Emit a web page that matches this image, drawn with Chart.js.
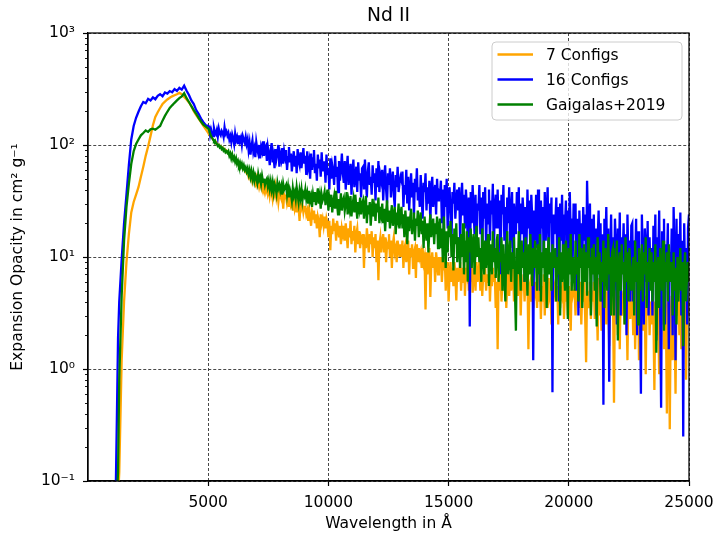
<!DOCTYPE html>
<html lang="en">
  <head>
    <meta charset="UTF-8" />
    <title>Nd II</title>
    <script src="https://cdn.jsdelivr.net/npm/chart.js"></script>
    <style>
      html, body { margin: 0; padding: 0; background: #fff; }
      #myChart { display: block; }
    </style>
  </head>
  <body>
    <canvas id="myChart" width="719" height="535"></canvas>

    <script>
      // wavelength grid in Å
      const wavelength = [
        1100, 1150, 1200, 1250, 1300, 1400, 1500, 1600, 1700, 1800,
        1900, 2000, 2100, 2200, 2300, 2400, 2500, 2600, 2700, 2800,
        2900, 3000, 3100, 3200, 3300, 3400, 3500, 3600, 3700, 3800,
        3900, 4000, 4100, 4200, 4300, 4400, 4500, 4600, 4700, 4800,
        4900, 5000,
        5040, 5080, 5120, 5160, 5200, 5240, 5280, 5320, 5360, 5400, 5440, 5480, 5520, 5560, 5600, 5640, 5680, 5720, 5760, 5800,
        5840, 5880, 5920, 5960, 6000, 6040, 6080, 6120, 6160, 6200, 6240, 6280, 6320, 6360, 6400, 6440, 6480, 6520, 6560, 6600,
        6640, 6680, 6720, 6760, 6800, 6840, 6880, 6920, 6960, 7000, 7040, 7080, 7120, 7160, 7200, 7240, 7280, 7320, 7360, 7400,
        7440, 7480, 7520, 7560, 7600, 7640, 7680, 7720, 7760, 7800, 7840, 7880, 7920, 7960, 8000, 8040, 8080, 8120, 8160, 8200,
        8240, 8280, 8320, 8360, 8400, 8440, 8480, 8520, 8560, 8600, 8640, 8680, 8720, 8760, 8800, 8840, 8880, 8920, 8960, 9000,
        9040, 9080, 9120, 9160, 9200, 9240, 9280, 9320, 9360, 9400, 9440, 9480, 9520, 9560, 9600, 9640, 9680, 9720, 9760, 9800,
        9840, 9880, 9920, 9960, 10000, 10040, 10080, 10120, 10160, 10200, 10240, 10280, 10320, 10360, 10400, 10440, 10480, 10520, 10560, 10600,
        10640, 10680, 10720, 10760, 10800, 10840, 10880, 10920, 10960, 11000, 11040, 11080, 11120, 11160, 11200, 11240, 11280, 11320, 11360, 11400,
        11440, 11480, 11520, 11560, 11600, 11640, 11680, 11720, 11760, 11800, 11840, 11880, 11920, 11960, 12000, 12040, 12080, 12120, 12160, 12200,
        12240, 12280, 12320, 12360, 12400, 12440, 12480, 12520, 12560, 12600, 12640, 12680, 12720, 12760, 12800, 12840, 12880, 12920, 12960, 13000,
        13040, 13080, 13120, 13160, 13200, 13240, 13280, 13320, 13360, 13400, 13440, 13480, 13520, 13560, 13600, 13640, 13680, 13720, 13760, 13800,
        13840, 13880, 13920, 13960, 14000, 14040, 14080, 14120, 14160, 14200, 14240, 14280, 14320, 14360, 14400, 14440, 14480, 14520, 14560, 14600,
        14640, 14680, 14720, 14760, 14800, 14840, 14880, 14920, 14960, 15000, 15040, 15080, 15120, 15160, 15200, 15240, 15280, 15320, 15360, 15400,
        15440, 15480, 15520, 15560, 15600, 15640, 15680, 15720, 15760, 15800, 15840, 15880, 15920, 15960, 16000, 16040, 16080, 16120, 16160, 16200,
        16240, 16280, 16320, 16360, 16400, 16440, 16480, 16520, 16560, 16600, 16640, 16680, 16720, 16760, 16800, 16840, 16880, 16920, 16960, 17000,
        17040, 17080, 17120, 17160, 17200, 17240, 17280, 17320, 17360, 17400, 17440, 17480, 17520, 17560, 17600, 17640, 17680, 17720, 17760, 17800,
        17840, 17880, 17920, 17960, 18000, 18040, 18080, 18120, 18160, 18200, 18240, 18280, 18320, 18360, 18400, 18440, 18480, 18520, 18560, 18600,
        18640, 18680, 18720, 18760, 18800, 18840, 18880, 18920, 18960, 19000, 19040, 19080, 19120, 19160, 19200, 19240, 19280, 19320, 19360, 19400,
        19440, 19480, 19520, 19560, 19600, 19640, 19680, 19720, 19760, 19800, 19840, 19880, 19920, 19960, 20000, 20040, 20080, 20120, 20160, 20200,
        20240, 20280, 20320, 20360, 20400, 20440, 20480, 20520, 20560, 20600, 20640, 20680, 20720, 20760, 20800, 20840, 20880, 20920, 20960, 21000,
        21040, 21080, 21120, 21160, 21200, 21240, 21280, 21320, 21360, 21400, 21440, 21480, 21520, 21560, 21600, 21640, 21680, 21720, 21760, 21800,
        21840, 21880, 21920, 21960, 22000, 22040, 22080, 22120, 22160, 22200, 22240, 22280, 22320, 22360, 22400, 22440, 22480, 22520, 22560, 22600,
        22640, 22680, 22720, 22760, 22800, 22840, 22880, 22920, 22960, 23000, 23040, 23080, 23120, 23160, 23200, 23240, 23280, 23320, 23360, 23400,
        23440, 23480, 23520, 23560, 23600, 23640, 23680, 23720, 23760, 23800, 23840, 23880, 23920, 23960, 24000, 24040, 24080, 24120, 24160, 24200,
        24240, 24280, 24320, 24360, 24400, 24440, 24480, 24520, 24560, 24600, 24640, 24680, 24720, 24760, 24800, 24840, 24880, 24920, 24960, 25000,
      ];

      // 7 Configs
      const opacity7 = [
        0.02, 0.03, 0.05, 0.07, 0.12, 1.2, 4, 9, 16, 25,
        31, 36, 42, 52, 64, 80, 97, 120, 150, 178,
        196, 214, 232, 244, 255, 264, 272, 278, 284, 292,
        284, 268, 255, 240, 222, 200, 185, 172, 160, 148,
        138, 128,
        124, 120, 118, 115, 112, 110, 108, 104, 106, 101, 100, 97, 98, 94, 95, 91, 92, 88, 89, 86,
        85, 82, 84, 79, 80, 76, 77, 73, 74, 70, 71, 67, 68, 65, 64, 62, 61, 59, 58, 56,
        57, 52, 55, 50, 53, 47, 51, 48, 45, 50, 44, 47, 42, 46, 43, 40, 45, 41, 44, 39,
        43, 37, 41, 35, 40, 38, 33, 39, 36, 42, 34, 38, 31, 37, 35, 33, 38, 27, 36, 34,
        35, 30, 33, 28, 34, 29, 31, 26, 33, 27, 30, 25, 32, 28, 21, 30, 27, 29, 25, 28,
        28, 24, 26, 21, 27, 23, 19, 25, 22, 26, 20, 24, 18, 23, 21, 15, 24, 20, 22, 19,
        23, 18, 22, 20, 15, 21, 11.5, 19, 16, 22, 17, 20, 14, 21, 18, 15, 19, 13, 18, 16,
        19, 14, 20, 16, 12, 18, 15, 21, 13, 17, 14, 19, 11, 16, 18, 13, 17, 12, 15, 14,
        16, 8, 15, 12, 18, 14, 11, 16, 13, 17, 10, 15, 12, 16, 9, 14, 6.2, 13, 15, 11,
        14, 16, 11, 15, 9, 13, 12, 16, 10, 14, 8, 13, 15, 11, 12, 9, 14, 12, 10, 13,
        10, 14, 8, 12, 13, 9, 11, 14, 7, 12, 10, 13, 8, 11, 12, 6.5, 13, 9, 12, 10,
        11, 8, 12, 9, 10, 3.4, 11, 7, 10, 12, 4.4, 9, 11, 8, 10, 6, 11, 9, 7, 10,
        8, 10, 6, 9, 7.6, 10, 5, 8, 9, 4, 7, 9, 6, 8, 5.5, 9, 7, 4.1, 8, 6,
        7, 9, 5, 8, 6, 10, 4.5, 8, 7, 9, 5, 8, 6, 9, 4.8, 7, 8, 5, 9, 6,
        7, 9, 5, 8, 4.5, 7, 6, 8, 5, 7, 6, 9, 4, 7, 5.5, 8, 6, 7, 3.5, 6,
        1.5, 7, 5, 8, 4, 6, 9, 5, 7, 3.5, 6, 8, 4.5, 7, 5, 6, 8, 4, 6.5, 5,
        7, 4.5, 6, 8, 3, 6, 5, 7, 4, 6.5, 5, 7, 1.5, 5.5, 6, 4, 7, 3.5, 6, 5,
        6, 3.5, 7, 4, 6, 2.8, 5.5, 4, 7, 3, 6, 5, 3.5, 6.5, 4.5, 5, 2.5, 6, 4, 5.5,
        6, 4, 5.5, 2.5, 7, 3.5, 5, 4.5, 6, 2.8, 5, 4, 6.5, 3, 5.5, 4, 2.2, 6, 4.5, 5,
        5, 3, 6, 4, 5.5, 3.5, 6, 2.5, 5, 4, 6, 3, 1.15, 5, 4.5, 3.5, 6, 2.8, 5, 4,
        6, 2.8, 5, 4, 1.8, 6.5, 3, 5, 2.2, 4.5, 5.5, 3.5, 6, 2.5, 4.5, 5, 1.6, 6, 3, 4.5,
        4, 0.5, 5, 3, 6, 2, 4.5, 1.5, 5.5, 3, 4, 5, 2.5, 6, 3.5, 1.2, 5, 4, 2.8, 4.5,
        5, 2, 6, 1.5, 4, 3, 5.5, 1.2, 4.5, 3, 5, 2.2, 6, 3.5, 0.9, 4.5, 3, 5.5, 2, 4,
        2.5, 5, 3, 0.65, 4, 2, 5, 3, 0.9, 4, 5.5, 2.5, 4.5, 1.5, 5, 3, 0.4, 4, 2.5, 0.29,
        3, 4.5, 1.2, 5, 2.5, 0.6, 4, 3, 5, 2, 4.5, 1.5, 3.5, 5, 2.5, 4, 0.8, 4.5, 3, 4,
      ];

      // 16 Configs
      const opacity16 = [
        0.04, 0.07, 0.35, 1.9, 4, 9.5, 20, 36, 66, 112,
        148, 175, 198, 222, 242, 236, 258, 250, 266, 256,
        275, 284, 272, 294, 288, 303, 296, 316, 304, 324,
        312, 338, 305, 280, 250, 232, 205, 190, 172, 160,
        150, 148,
        146, 124, 138, 128, 120, 142, 130, 125, 136, 119, 140, 127, 122, 134, 129, 118, 144, 126, 132, 121,
        128, 112, 120, 106, 124, 115, 102, 126, 110, 118, 104, 122, 108, 116, 100, 120, 112, 105, 118, 102,
        112, 90, 104, 82, 98, 110, 86, 94, 78, 106, 92, 84, 100, 76, 96, 88, 108, 80, 94, 98,
        72, 96, 84, 66, 90, 104, 70, 80, 62, 92, 76, 86, 100, 64, 82, 74, 94, 68, 88, 78,
        90, 60, 78, 96, 70, 84, 58, 74, 88, 64, 80, 56, 92, 72, 66, 86, 62, 76, 94, 68,
        80, 54, 88, 64, 72, 50, 84, 60, 76, 90, 56, 68, 48, 82, 62, 74, 52, 86, 58, 70,
        70, 46, 82, 54, 62, 40, 76, 50, 66, 58, 44, 80, 52, 64, 38, 72, 48, 60, 84, 56,
        46, 72, 40, 60, 80, 44, 54, 68, 36, 58, 74, 42, 50, 64, 38, 70, 48, 56, 34, 62,
        64, 40, 74, 48, 34, 58, 70, 44, 52, 36, 66, 46, 56, 32, 62, 42, 72, 38, 54, 48,
        60, 32, 50, 66, 40, 30, 56, 44, 62, 34, 48, 58, 36, 28, 54, 42, 64, 38, 46, 52,
        48, 58, 28, 44, 36, 60, 30, 52, 26, 40, 56, 34, 46, 24, 50, 38, 62, 32, 42, 28,
        54, 34, 22, 46, 38, 56, 26, 42, 30, 48, 20, 40, 52, 28, 36, 44, 24, 50, 32, 38,
        36, 48, 20, 40, 16, 44, 28, 50, 18, 34, 42, 24, 14, 38, 30, 46, 22, 32, 40, 26,
        42, 14, 30, 46, 24, 36, 18, 40, 28, 12, 34, 2.4, 38, 20, 44, 26, 16, 36, 10, 30,
        26, 44, 16, 34, 9, 38, 22, 42, 12, 30, 20, 40, 14, 32, 24, 45, 10, 28, 36, 18,
        40, 18, 32, 7, 36, 24, 44, 14, 28, 10, 34, 20, 42, 12, 26, 38, 8, 30, 22, 16,
        38, 20, 42, 8, 30, 16, 34, 24, 6, 28, 12, 40, 18, 32, 10, 36, 22, 1.2, 26, 14,
        36, 12, 40, 22, 5, 32, 18, 28, 8, 38, 14, 26, 42, 10, 30, 20, 34, 0.62, 24, 16,
        20, 34, 8, 28, 4, 30, 14, 36, 10, 24, 18, 32, 6, 26, 12, 38, 16, 22, 9, 30,
        16, 30, 5, 22, 3, 26, 12, 20, 8, 28, 14, 24, 6, 48, 18, 10, 30, 4, 22, 12,
        24, 6, 18, 3, 14, 26, 9, 20, 4, 16, 0.48, 22, 12, 28, 7, 18, 0.77, 10, 24, 5,
        15, 5, 22, 12, 2.5, 18, 8, 25, 3, 15, 10, 20, 6, 16, 2, 24, 9, 14, 4, 19,
        20, 4, 14, 8, 22, 2, 17, 10, 5, 0.6, 24, 9, 2.5, 18, 12, 6, 21, 3, 15, 7,
        12, 3, 19, 7, 24, 1.8, 15, 9, 26, 4, 0.45, 17, 6, 22, 2.5, 13, 8, 20, 1.5, 11,
        6, 18, 2, 28, 10, 1.2, 22, 4, 16, 8, 25, 3, 14, 0.25, 20, 6, 12, 2.5, 18, 24,
      ];

      // Gaigalas+2019
      const opacityGaigalas = [
        0.02, 0.04, 0.07, 0.12, 0.8, 4.5, 14, 28, 45, 68,
        88, 102, 112, 122, 128, 135, 131, 138, 140, 137,
        142, 148, 165, 182, 198, 214, 226, 238, 250, 262,
        272, 290, 262, 242, 222, 205, 190, 175, 162, 152,
        146, 140,
        136, 126, 120, 116, 112, 108, 110, 104, 102, 98, 100, 95, 97, 92, 94, 89, 91, 86, 88, 85,
        88, 80, 84, 76, 82, 74, 78, 71, 76, 68, 72, 66, 70, 64, 68, 62, 66, 60, 63, 58,
        62, 55, 60, 52, 58, 50, 56, 48, 54, 51, 46, 55, 49, 52, 45, 53, 47, 50, 44, 48,
        50, 43, 48, 41, 47, 40, 46, 38, 45, 42, 37, 46, 41, 44, 39, 43, 36, 45, 40, 42,
        44, 36, 42, 34, 40, 37, 32, 41, 35, 38, 33, 42, 36, 31, 39, 34, 40, 32, 37, 35,
        40, 33, 37, 30, 39, 32, 35, 28, 36, 31, 38, 29, 34, 41, 30, 35, 27, 36, 32, 34,
        38, 29, 34, 40, 26, 33, 28, 36, 25, 31, 35, 27, 39, 30, 24, 33, 29, 37, 26, 32,
        34, 26, 30, 38, 24, 31, 27, 35, 23, 29, 33, 25, 36, 28, 22, 31, 27, 34, 24, 30,
        32, 22, 28, 35, 20, 29, 24, 31, 19, 26, 33, 23, 27, 21, 30, 25, 34, 20, 28, 24,
        30, 20, 27, 17, 25, 32, 21, 26, 18, 24, 29, 19, 23, 28, 16, 25, 22, 30, 18, 24,
        28, 18, 24, 15, 26, 20, 13, 23, 17, 22, 27, 16, 21, 25, 14, 22, 19, 26, 15, 21,
        25, 16, 21, 12, 23, 17, 14, 20, 11, 18, 24, 15, 19, 22, 13, 20, 16, 23, 12, 18,
        22, 12, 18, 9, 23, 14, 8, 17, 11, 19, 15, 21, 10, 16, 7.6, 18, 13, 20, 9, 15,
        13, 8, 16, 10, 20, 7, 14, 9, 17, 6, 15, 11, 18, 8, 13, 16, 7, 12, 19, 10,
        15, 9, 12, 6, 18, 10, 7, 14, 8, 12, 16, 5.5, 11, 13, 7, 17, 9, 12, 6.5, 14,
        16, 6, 11, 9, 15, 5, 13, 8, 4, 12, 17, 7, 10, 14, 6, 11, 8, 15, 5, 2.2,
        12, 7, 17, 9, 5, 14, 8, 11, 6, 15, 10, 4.5, 13, 7, 16, 9, 5.5, 12, 8, 14,
        9, 5, 13, 7, 16, 4, 11, 8, 14, 6, 12, 3.5, 10, 15, 7, 11, 5, 13, 8, 10,
        12, 4, 10, 7, 15, 3, 11, 6, 13, 8, 5, 14, 9, 2.8, 12, 7, 16, 5, 10, 8,
        5, 14, 7, 10, 4, 16, 8, 12, 3.5, 9, 13, 6, 11, 4.5, 15, 8, 10, 3, 12, 7,
        13, 5, 10, 2.4, 15, 7, 11, 4, 9, 6, 14, 3.5, 12, 8, 5, 16, 7, 10, 3, 11,
        12, 3, 10, 6, 14, 1.8, 8, 11, 5, 13, 7, 9, 2.5, 15, 6, 11, 4, 12, 8, 5,
        7, 10, 3, 14, 6, 9, 2.5, 12, 5, 8, 13, 4, 11, 7, 15, 3.5, 9, 6, 12, 5,
        11, 4, 9, 6, 13, 1.4, 8, 10, 3.5, 12, 7, 5, 14, 2.2, 9, 6, 11, 4, 13, 7,
        6, 9, 3, 11, 5, 8, 2.5, 10, 4, 7, 12, 5, 9, 1.6, 8, 11, 4, 7, 9, 6,
      ];

      const seriesLabels = ["7 Configs", "16 Configs", "Gaigalas+2019"];
      const seriesColors = ["#ffa500", "#0000ff", "#008000"];
      const xTicks = [5000, 10000, 15000, 20000, 25000];
      const yTicks = [0.1, 1, 10, 100, 1000];
      const yTickLabels = ["10⁻¹", "10⁰", "10¹", "10²", "10³"];
      const yMinorDecades = [0.1, 1, 10, 100];

      const fontFamily = "'DejaVu Sans', sans-serif";
      const tickFont = { family: fontFamily, size: 15.5 };

      const makeData = (values) =>
        wavelength.map((x, i) => ({ x: x, y: values[i] }));

      // title, box, minor ticks and legend like matplotlib
      const decorations = {
        id: "decorations",
        afterDraw(chart) {
          const { ctx, chartArea: a } = chart;
          const yScale = chart.scales.y;
          ctx.save();

          // minor ticks on the log axis
          ctx.strokeStyle = "#000";
          ctx.lineWidth = 0.9;
          ctx.beginPath();
          yMinorDecades.forEach((d) => {
            for (let k = 2; k <= 9; k++) {
              const py = Math.round(yScale.getPixelForValue(d * k)) + 0.5;
              ctx.moveTo(a.left - 3, py);
              ctx.lineTo(a.left, py);
            }
          });
          ctx.stroke();

          // frame
          ctx.lineWidth = 1.25;
          ctx.strokeStyle = "#000";
          ctx.strokeRect(a.left, a.top, a.right - a.left, a.bottom - a.top);

          // title
          ctx.fillStyle = "#000";
          ctx.font = "18.7px " + fontFamily;
          ctx.textAlign = "center";
          ctx.textBaseline = "middle";
          ctx.fillText("Nd II", (a.left + a.right) / 2, 16);

          // legend
          const w = 190, h = 78;
          const bx = a.right - 7 - w, by = a.top + 9, r = 4;
          ctx.beginPath();
          ctx.moveTo(bx + r, by);
          ctx.arcTo(bx + w, by, bx + w, by + h, r);
          ctx.arcTo(bx + w, by + h, bx, by + h, r);
          ctx.arcTo(bx, by + h, bx, by, r);
          ctx.arcTo(bx, by, bx + w, by, r);
          ctx.closePath();
          ctx.fillStyle = "rgba(255,255,255,0.8)";
          ctx.fill();
          ctx.strokeStyle = "#cccccc";
          ctx.lineWidth = 1;
          ctx.stroke();

          ctx.font = "15.5px " + fontFamily;
          ctx.textAlign = "left";
          chart.data.datasets.forEach((ds, i) => {
            const ly = by + 12.5 + i * 25;
            ctx.strokeStyle = ds.borderColor;
            ctx.lineWidth = 2.3;
            ctx.beginPath();
            ctx.moveTo(bx + 5.5, ly);
            ctx.lineTo(bx + 41, ly);
            ctx.stroke();
            ctx.fillStyle = "#000";
            ctx.fillText(ds.label, bx + 54, ly + 1);
          });

          ctx.restore();
        },
      };

      // lower order is drawn on top: Gaigalas over 16 over 7
      const config = {
        type: "line",
        data: {
          datasets: [
            { label: seriesLabels[0], data: makeData(opacity7), borderColor: seriesColors[0], order: 2 },
            { label: seriesLabels[1], data: makeData(opacity16), borderColor: seriesColors[1], order: 1 },
            { label: seriesLabels[2], data: makeData(opacityGaigalas), borderColor: seriesColors[2], order: 0 },
          ],
        },
        options: {
          responsive: false,
          animation: false,
          devicePixelRatio: 1,
          layout: { padding: { top: 33, right: 30, left: 0, bottom: 0 } },
          elements: {
            point: { radius: 0 },
            line: { borderWidth: 2.3, tension: 0, fill: false },
          },
          plugins: {
            legend: { display: false },
            tooltip: { enabled: false },
          },
          scales: {
            x: {
              type: "linear",
              min: 0,
              max: 25000,
              afterBuildTicks: (scale) => {
                scale.ticks = xTicks.map((v) => ({ value: v }));
              },
              afterFit: (scale) => {
                scale.height = 54;
                scale.paddingLeft = 0;
                scale.paddingRight = 0;
              },
              ticks: {
                color: "#000",
                font: tickFont,
                padding: 8,
                maxRotation: 0,
                autoSkip: false,
                callback: (v) => String(v),
              },
              grid: {
                color: "#333",
                lineWidth: 0.9,
                tickColor: "#000",
                tickLength: 5,
                tickWidth: 1.2,
              },
              border: { display: true, color: "#000", width: 1.25, dash: [3, 2] },
              title: {
                display: true,
                text: "Wavelength in Å",
                color: "#000",
                font: tickFont,
                padding: { top: 0, bottom: 2 },
              },
            },
            y: {
              type: "logarithmic",
              min: 0.1,
              max: 1000,
              afterBuildTicks: (scale) => {
                scale.ticks = yTicks.map((v) => ({ value: v }));
              },
              afterFit: (scale) => {
                scale.width = 88;
                scale.paddingTop = 0;
                scale.paddingBottom = 0;
              },
              ticks: {
                color: "#000",
                font: tickFont,
                padding: 8,
                autoSkip: false,
                callback: (v, i) => yTickLabels[i],
              },
              grid: {
                color: "#333",
                lineWidth: 0.9,
                tickColor: "#000",
                tickLength: 5,
                tickWidth: 1.2,
              },
              border: { display: true, color: "#000", width: 1.25, dash: [3, 2] },
              title: {
                display: true,
                text: "Expansion Opacity in cm² g⁻¹",
                color: "#000",
                font: tickFont,
                padding: { top: 9, bottom: 0 },
              },
            },
          },
        },
        plugins: [decorations],
      };

      const ctx = document.getElementById("myChart");
      new Chart(ctx, config);
    </script>
  </body>
</html>
